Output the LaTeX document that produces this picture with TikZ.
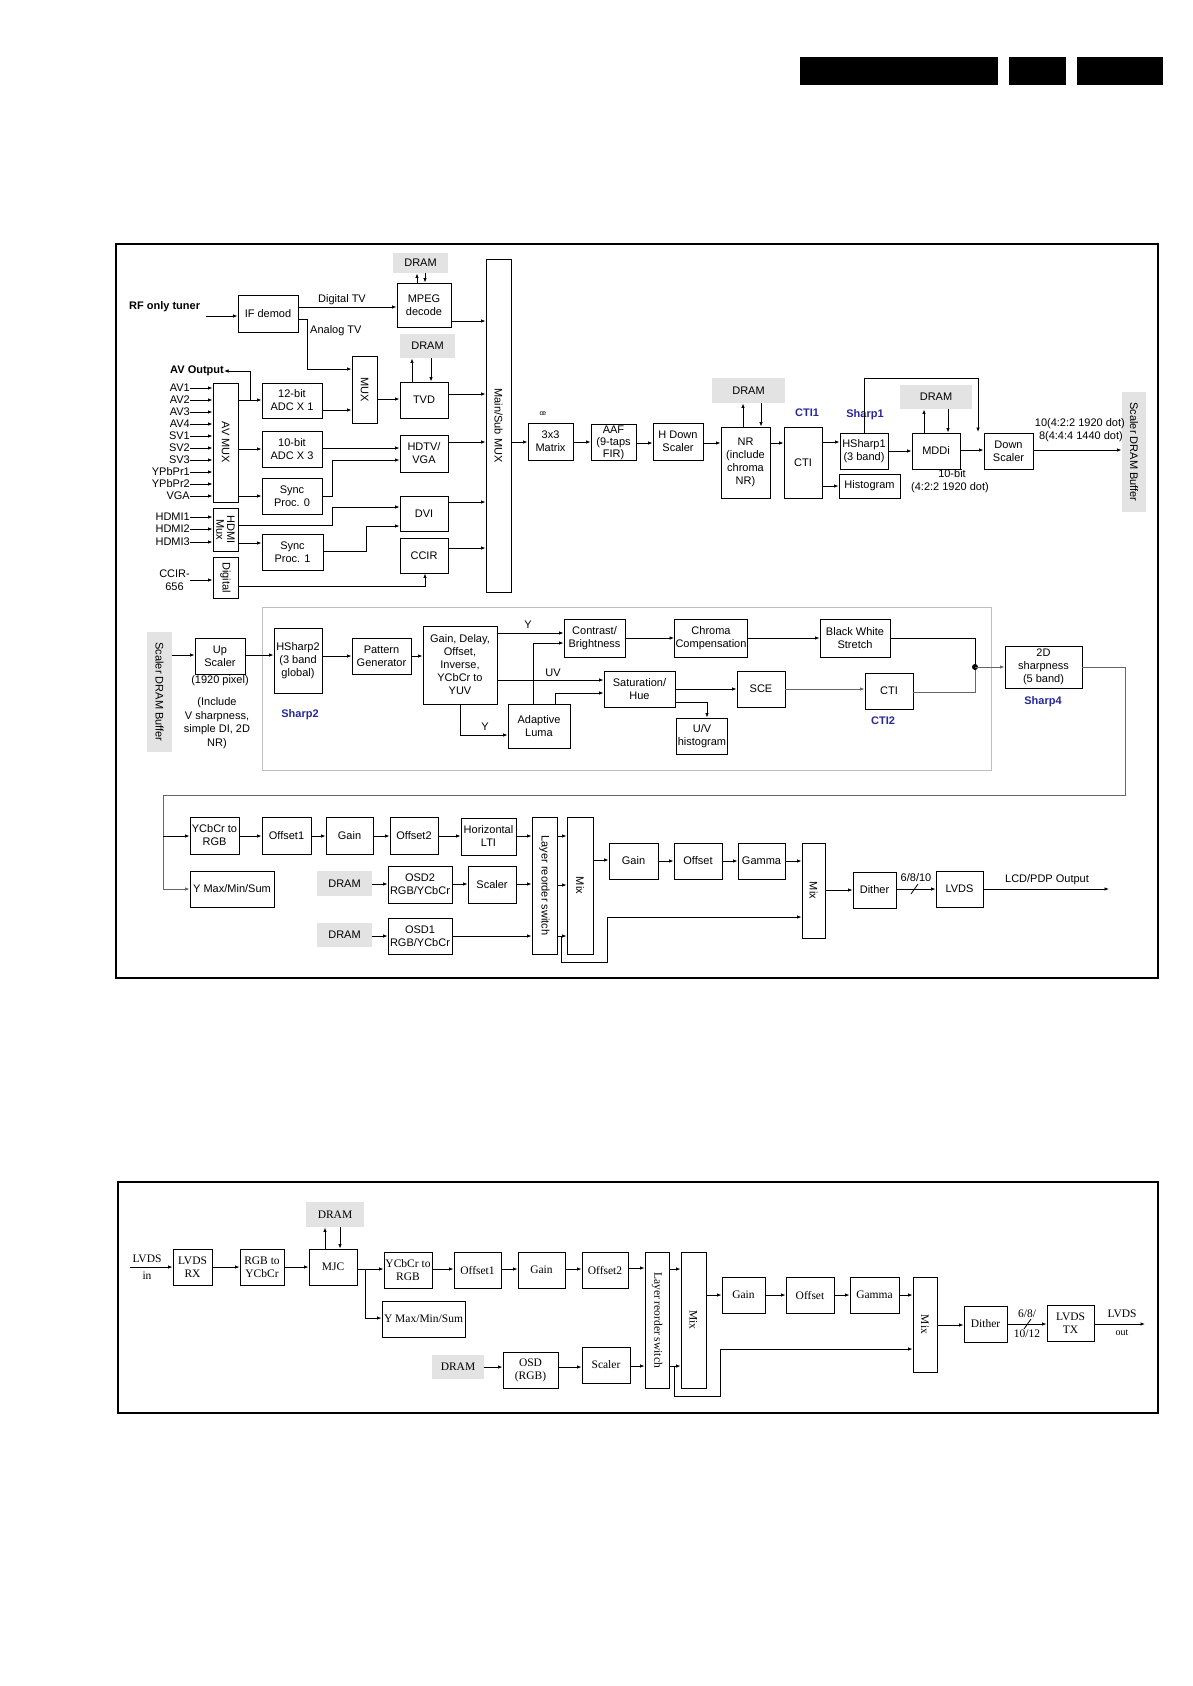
\documentclass[tikz,border=0pt]{standalone}
\usepackage{fontspec}
\usepackage{graphicx}
\usetikzlibrary{arrows.meta}
\newfontfamily\sansf{Liberation Sans}
\newfontfamily\serff{Liberation Serif}
\newcommand\ftop{\sansf\fontsize{11}{13}\selectfont}
\newcommand\fbot{\serff\fontsize{11.5}{13}\selectfont}
\definecolor{lblblue}{RGB}{40,40,150}
\newcommand\vtext[1]{\rotatebox{-90}{#1}}
\newcommand\bkx[7][]{\node[blk,minimum width={(#5-#3)*1pt},minimum height={(#6-#4)*1pt},#1] (#2) at ({(#3+#5)/2},{(#4+#6)/2}) {#7};}
\newcommand\harr[4][]{\draw[arr,#1] (#2.east |- 0,#4) -- (#3.west |- 0,#4);}
\begin{document}
\begin{tikzpicture}[x=1pt,y=-1pt,
  blk/.style={draw,line width=0.9pt,inner sep=1pt,align=center,font=\ftop},
  dram/.style={fill=gray!22,draw=none},
  arr/.style={line width=0.8pt,-{Latex[length=4.5pt,width=3.5pt]}},
  ln/.style={line width=0.8pt},
  lbl/.style={inner sep=0pt,font=\ftop,align=center},
  bl/.style={inner sep=0pt,font=\ftop\bfseries,text=lblblue},
]
\fill[white] (0,0) rectangle (1193,1686);
\useasboundingbox (0,0) rectangle (1193,1686);

% header
\bkx[fill=black,draw=none]{hd1}{800}{57}{998}{85}{}
\bkx[fill=black,draw=none]{hd2}{1009}{57}{1066}{85}{}
\bkx[fill=black,draw=none]{hd3}{1077}{57}{1163}{85}{}

% ================= top diagram =================
\bkx[line width=1.8pt]{frA}{116}{244}{1158}{978}{}

\bkx[dram]{dramA1}{393}{253}{448}{273}{DRAM}
\bkx{mpeg}{397}{283}{451}{327}{MPEG\\decode}
\draw[arr] (mpeg.north -| 417,0) -- (dramA1.south -| 417,0);
\draw[arr] (dramA1.south -| 425,0) -- (mpeg.north -| 425,0);

\node[lbl,font=\ftop\bfseries,anchor=west] (rf) at (129,307) {RF only tuner};
\coordinate (rfin) at (206,316);
\bkx{ifd}{238}{295}{298}{332}{IF demod}
\draw[arr] (rfin) -- (ifd.west |- rfin);
\draw[arr] (ifd.east |- 0,307) -- (mpeg.west |- 0,307);
\node[lbl] (dtv) at (342,300) {Digital TV};

\bkx{mux}{352}{356}{377}{423}{\vtext{MUX}}
\draw[arr] (ifd.east |- 0,319) -| (307,369) -- (mux.west |- 0,369);
\node[lbl,anchor=west] (atv) at (310,331) {Analog TV};

\bkx[dram]{dramA2}{400}{334}{455}{358}{DRAM}
\bkx{tvd}{400}{382}{448}{418}{TVD}
\draw[arr] (tvd.north -| 412,0) -- (dramA2.south -| 412,0);
\draw[arr] (dramA2.south -| 431,0) -- (tvd.north -| 431,0);
\harr{mux}{tvd}{399}

\bkx{adc12}{262}{383}{322}{418}{12-bit\\ADC X 1}
\harr{adc12}{mux}{410}
\bkx{avmux}{213}{383}{238}{502}{\vtext{AV MUX}}
\harr{avmux}{adc12}{400}
\node[lbl,font=\ftop\bfseries,anchor=east] (avout) at (224,371) {AV Output};
\coordinate (avbr) at (250,400);
\draw[arr] (avbr) |- (avout.east);

\foreach \n/\y in {AV1/388,AV2/400,AV3/412,AV4/424,SV1/436,SV2/448,SV3/460,YPbPr1/472,YPbPr2/484,VGA/496,HDMI1/517,HDMI2/529,HDMI3/542}{
  \node[lbl,anchor=east] (in\n) at (190,\y) {\n};
}
\foreach \n in {AV1,AV2,AV3,AV4,SV1,SV2,SV3,YPbPr1,YPbPr2,VGA}{
  \draw[arr] (in\n.east) -- (avmux.west |- in\n.east);
}

\bkx{adc10}{262}{431}{322}{467}{10-bit\\ADC X 3}
\harr{avmux}{adc10}{449}
\bkx{hdtv}{400}{435}{448}{472}{HDTV/\\VGA}
\harr{adc10}{hdtv}{448}
\bkx{sync0}{262}{478}{322}{514}{Sync\\Proc. 0}
\harr{avmux}{sync0}{496}
\draw[arr] (sync0.east |- 0,496) -| (332,460) -- (hdtv.west |- 0,460);

\bkx{hdmimux}{213}{508}{238}{551}{\vtext{\shortstack{HDMI\\Mux}}}
\foreach \n in {HDMI1,HDMI2,HDMI3}{
  \draw[arr] (in\n.east) -- (hdmimux.west |- in\n.east);
}
\bkx{dvi}{400}{496}{448}{531}{DVI}
\draw[arr] (hdmimux.east |- 0,525) -| (332,507) -- (dvi.west |- 0,507);
\bkx{sync1}{262}{534}{323}{570}{Sync\\Proc. 1}
\harr{hdmimux}{sync1}{543}
\draw[arr] (sync1.east |- 0,551) -| (366,526) -- (dvi.west |- 0,526);
\bkx{ccir}{400}{538}{448}{573}{CCIR}
\bkx{digi}{213}{557}{238}{598}{\vtext{Digital}}
\node[lbl,anchor=east] (ccir656) at (190,580) {CCIR-\\656};
\draw[arr] (ccir656.east) -- (digi.west |- ccir656.east);
\draw[arr] (digi.east |- 0,586) -| (ccir.south -| 425,0);

\bkx{mainmux}{486}{259}{511}{592}{\vtext{Main/Sub MUX}}
\harr{mpeg}{mainmux}{321}
\harr{tvd}{mainmux}{394}
\harr{hdtv}{mainmux}{442}
\harr{dvi}{mainmux}{502}
\harr{ccir}{mainmux}{548}

\node[lbl,font=\sansf\fontsize{7}{7}\selectfont] (sym) at (543,414) {œ};
\bkx{m33}{528}{423}{573}{460}{3x3\\Matrix}
\harr{mainmux}{m33}{442}
\bkx[font=\sansf\fontsize{11}{12}\selectfont]{aaf}{591}{425}{636}{460}{AAF\\(9-taps\\FIR)}
\harr{m33}{aaf}{442}
\bkx{hdn}{653}{423}{703}{460}{H Down\\Scaler}
\harr{aaf}{hdn}{443}
\bkx[dram]{dramA3}{712}{378}{785}{403}{DRAM}
\bkx{nr}{721}{427}{770}{498}{NR\\(include\\chroma\\NR)}
\draw[arr] (nr.north -| 743,0) -- (dramA3.south -| 743,0);
\draw[arr] (dramA3.south -| 761,0) -- (nr.north -| 761,0);
\harr{hdn}{nr}{443}
\node[bl] (lcti1) at (807,413) {CTI1};
\bkx{cti}{784}{427}{822}{498}{CTI}
\harr{nr}{cti}{443}
\node[bl] (lsh1) at (865,415) {Sharp1};
\bkx{hs1}{840}{433}{888}{469}{HSharp1\\(3 band)}
\harr{cti}{hs1}{442}
\bkx{hist}{839}{474}{900}{498}{Histogram}
\harr{cti}{hist}{486}
\bkx[dram]{dramA4}{900}{385}{972}{409}{DRAM}
\bkx{mddi}{912}{433}{960}{469}{MDDi}
\draw[arr] (mddi.north -| 924,0) -- (dramA4.south -| 924,0);
\draw[arr] (dramA4.south -| 948,0) -- (mddi.north -| 948,0);
\harr{hs1}{mddi}{451}
\coordinate (fbend) at (978,432);
\draw[arr] (hs1.north -| 864,0) |- (fbend |- 0,378) -- (fbend);
\node[lbl] (l10b) at (952,474) {10-bit};
\node[lbl] (l422) at (950,488) {(4:2:2 1920 dot)};
\bkx{dsc}{984}{433}{1033}{469}{Down\\Scaler}
\harr{mddi}{dsc}{450}
\bkx[dram]{sdb1}{1122}{392}{1146}{512}{\vtext{Scaler DRAM Buffer}}
\harr{dsc}{sdb1}{450}
\node[lbl,anchor=east] (l10) at (1125,424) {10(4:2:2 1920 dot)};
\node[lbl,anchor=east] (l8) at (1123,437) {8(4:4:4 1440 dot)};

% middle row
\bkx[draw=gray!50,line width=0.7pt]{gbox}{262}{607}{991}{770}{}
\bkx[dram]{sdb2}{147}{632}{172}{752}{\vtext{Scaler DRAM Buffer}}
\bkx{ups}{195}{638}{245}{674}{Up\\Scaler}
\harr{sdb2}{ups}{655}
\node[lbl] (l1920) at (220,681) {(1920 pixel)};
\node[lbl,font=\sansf\fontsize{11}{13.5}\selectfont] (linc) at (217,723) {(Include\\V sharpness,\\simple DI, 2D\\NR)};
\bkx{hs2}{274}{628}{322}{693}{HSharp2\\(3 band\\global)}
\harr{ups}{hs2}{655}
\node[bl] (lsh2) at (300,715) {Sharp2};
\bkx{pg}{352}{638}{411}{674}{Pattern\\Generator}
\harr{hs2}{pg}{656}
\bkx{gdo}{423}{626}{497}{704}{Gain, Delay,\\Offset,\\Inverse,\\YCbCr to\\YUV}
\harr{pg}{gdo}{656}
\bkx{cb}{564}{619}{625}{657}{Contrast/\\Brightness}
\harr{gdo}{cb}{633}
\node[lbl] (ly1) at (528,625) {Y};
\bkx{al}{508}{704}{570}{748}{Adaptive\\Luma}
\draw[arr] (gdo.south -| 460,0) |- (al.west |- 0,735);
\node[lbl] (ly2) at (485,727) {Y};
\draw[arr] (al.north -| 533,0) |- (cb.west |- 0,643);
\bkx{sat}{604}{671}{675}{707}{Saturation/\\Hue}
\harr{gdo}{sat}{680}
\node[lbl] (luv) at (553,673) {UV};
\draw[arr] (al.north -| 555,0) |- (sat.west |- 0,693);
\bkx{chc}{676}{619}{746}{657}{Chroma\\Compensation}
\harr{cb}{chc}{638}
\bkx{bws}{820}{619}{890}{657}{Black White\\Stretch}
\harr{chc}{bws}{638}
\bkx{sce}{737}{671}{785}{707}{SCE}
\harr{sat}{sce}{689}
\bkx{uvh}{677}{718}{727}{754}{U/V\\histogram}
\draw[arr] (sat.east |- 0,702) -| (uvh.north -| 707,0);
\bkx{cti2}{865}{673}{913}{709}{CTI}
\harr[draw=gray!80!black]{sce}{cti2}{689}
\node[bl] (lcti2) at (883,721) {CTI2};
\coordinate (jd) at (975,667);
\draw[ln] (bws.east |- 0,638) -| (jd);
\draw[ln,draw=gray!80!black] (cti2.east |- 0,692) -| (jd);
\fill (jd) circle (3pt);
\bkx{sh2d}{1005}{646}{1082}{688}{2D\\sharpness\\(5 band)}
\draw[arr,draw=gray!80!black] (jd) -- (sh2d.west |- jd);
\node[bl] (lsh4) at (1043,702) {Sharp4};

% bottom row of top diagram
\bkx{ycr}{190}{817}{239}{854}{YCbCr to\\RGB}
\bkx{of1}{262}{817}{311}{854}{Offset1}
\bkx{gn1}{326}{817}{373}{854}{Gain}
\bkx{of2}{390}{817}{438}{854}{Offset2}
\bkx{hlti}{461}{818}{516}{855}{Horizontal\\LTI}
\bkx{lay}{532}{817}{557}{954}{\vtext{Layer reorder switch}}
\bkx{mx1}{567}{817}{593}{954}{\vtext{Mix}}
\bkx{ymm}{190}{871}{274}{907}{Y Max/Min/Sum}
\coordinate (rt) at (1125,795);
\coordinate (lt) at (163,795);
\draw[arr,draw=gray!80!black] (sh2d.east |- jd) -| (rt) -- (lt) |- (ymm.west |- 0,889);
\draw[arr] (lt |- 0,836) -- (ycr.west |- 0,836);
\harr{ycr}{of1}{836}
\harr{of1}{gn1}{836}
\harr{gn1}{of2}{836}
\harr{of2}{hlti}{836}
\harr{hlti}{lay}{836}
\bkx[dram]{drB1}{317}{871}{372}{896}{DRAM}
\bkx{osd2}{388}{866}{452}{903}{OSD2\\RGB/YCbCr}
\bkx{scl}{468}{866}{516}{903}{Scaler}
\bkx[dram]{drB2}{317}{923}{372}{947}{DRAM}
\bkx{osd1}{388}{918}{452}{954}{OSD1\\RGB/YCbCr}
\harr{drB1}{osd2}{884}
\harr{osd2}{scl}{884}
\harr{scl}{lay}{884}
\harr{drB2}{osd1}{936}
\harr{osd1}{lay}{936}
\harr{lay}{mx1}{836}
\harr{lay}{mx1}{885}
\harr{lay}{mx1}{936}
\bkx{gn2}{609}{843}{658}{879}{Gain}
\bkx{ofs}{674}{843}{722}{879}{Offset}
\bkx{gam}{738}{843}{785}{879}{Gamma}
\bkx{mx2}{802}{843}{825}{938}{\vtext{Mix}}
\harr{mx1}{gn2}{860}
\harr{gn2}{ofs}{861}
\harr{ofs}{gam}{861}
\harr{gam}{mx2}{861}
\coordinate (lp1) at (561,936);
\draw[arr] (lp1) |- (607,962) |- (mx2.west |- 0,917);
\bkx{dth}{853}{872}{896}{908}{Dither}
\harr{mx2}{dth}{890}
\bkx{lvds}{936}{871}{983}{907}{LVDS}
\harr{dth}{lvds}{889}
\draw[ln] (911,894) -- (918,884);
\node[lbl] (l6810) at (916,878) {6/8/10};
\coordinate (outA) at (1109,889);
\draw[arr] (lvds.east |- outA) -- (outA);
\node[lbl] (llcd) at (1047,880) {LCD/PDP Output};

% ================= bottom diagram =================
\bkx[line width=1.8pt]{frB}{118}{1182}{1158}{1413}{}
\node[lbl,font=\fbot] (lvi1) at (147,1259) {LVDS};
\node[lbl,font=\fbot] (lvi2) at (147,1276) {in};
\coordinate (lvin) at (130,1267);
\bkx[font=\fbot]{lvrx}{173}{1249}{212}{1285}{LVDS\\RX}
\draw[arr] (lvin) -- (lvrx.west |- lvin);
\bkx[font=\fbot]{rgby}{240}{1249}{284}{1285}{RGB to\\YCbCr}
\bkx[font=\fbot]{mjc}{309}{1249}{357}{1285}{MJC}
\bkx[dram,font=\fbot]{drC}{306}{1202}{364}{1227}{DRAM}
\draw[arr] (mjc.north -| 325,0) -- (drC.south -| 325,0);
\draw[arr] (drC.south -| 340,0) -- (mjc.north -| 340,0);
\harr{lvrx}{rgby}{1267}
\harr{rgby}{mjc}{1267}
\bkx[font=\fbot]{ycr2}{384}{1252}{432}{1288}{YCbCr to\\RGB}
\harr{mjc}{ycr2}{1269}
\bkx[font=\fbot]{ymm2}{382}{1301}{465}{1337}{Y Max/Min/Sum}
\coordinate (br2) at (365,1269);
\draw[arr] (br2) |- (ymm2.west |- 0,1318);
\bkx[font=\fbot]{of1b}{454}{1252}{501}{1288}{Offset1}
\bkx[font=\fbot]{gnb}{518}{1252}{565}{1288}{Gain}
\bkx[font=\fbot]{of2b}{582}{1252}{628}{1288}{Offset2}
\harr{ycr2}{of1b}{1269}
\harr{of1b}{gnb}{1269}
\harr{gnb}{of2b}{1269}
\bkx[font=\fbot]{lay2}{645}{1252}{669}{1388}{\vtext{Layer reorder switch}}
\bkx[font=\fbot]{mxb}{681}{1252}{706}{1388}{\vtext{Mix}}
\harr{of2b}{lay2}{1268}
\harr{lay2}{mxb}{1269}
\harr{lay2}{mxb}{1366}
\bkx[dram,font=\fbot]{drD}{432}{1355}{484}{1379}{DRAM}
\bkx[font=\fbot]{osdb}{503}{1352}{558}{1388}{OSD\\(RGB)}
\bkx[font=\fbot]{sclb}{582}{1347}{630}{1383}{Scaler}
\harr{drD}{osdb}{1367}
\harr{osdb}{sclb}{1367}
\harr{sclb}{lay2}{1366}
\bkx[font=\fbot]{gnc}{722}{1277}{765}{1313}{Gain}
\bkx[font=\fbot]{ofc}{786}{1277}{834}{1313}{Offset}
\bkx[font=\fbot]{gmc}{850}{1277}{899}{1313}{Gamma}
\bkx[font=\fbot]{mx2b}{913}{1277}{937}{1372}{\vtext{Mix}}
\harr{mxb}{gnc}{1295}
\harr{gnc}{ofc}{1295}
\harr{ofc}{gmc}{1295}
\harr{gmc}{mx2b}{1295}
\coordinate (lp2) at (674,1366);
\draw[arr] (lp2) |- (720,1396) |- (mx2b.west |- 0,1349);
\bkx[font=\fbot]{dthb}{964}{1306}{1007}{1342}{Dither}
\harr{mx2b}{dthb}{1325}
\bkx[font=\fbot]{lvtx}{1047}{1305}{1094}{1341}{LVDS\\TX}
\harr{dthb}{lvtx}{1324}
\draw[ln] (1024,1329) -- (1031,1319);
\node[lbl,font=\fbot] (l68a) at (1027,1314) {6/8/};
\node[lbl,font=\fbot] (l68b) at (1027,1334) {10/12};
\coordinate (outB) at (1145,1324);
\draw[arr] (lvtx.east |- outB) -- (outB);
\node[lbl,font=\fbot] (lo1) at (1122,1314) {LVDS};
\node[lbl,font=\serff\fontsize{10}{11}\selectfont] (lo2) at (1122,1333) {out};
\end{tikzpicture}
\end{document}
